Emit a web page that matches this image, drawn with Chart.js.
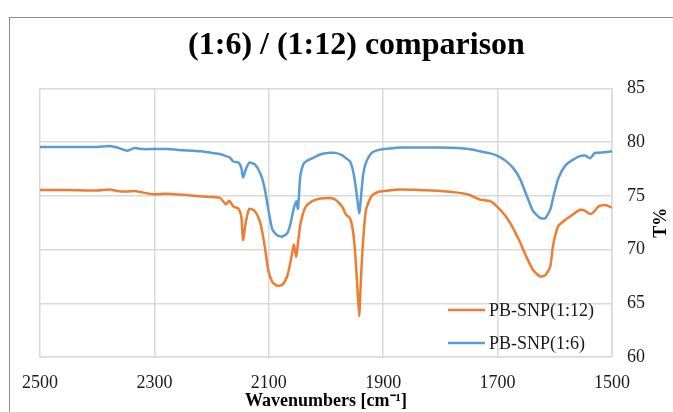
<!DOCTYPE html>
<html>
<head>
<meta charset="utf-8">
<script src="https://cdn.jsdelivr.net/npm/chart.js@4/dist/chart.umd.min.js"></script>
<style>
    html, body { margin: 0; padding: 0; background: #fff; overflow: hidden; }
    #wrap { position: relative; width: 673px; height: 412px; }
    #frame { position: absolute; left: 9px; top: 17px; width: 700px; height: 420px;
             border-top: 1px solid #8c8c8c; border-left: 1px solid #8c8c8c; }
    canvas { position: absolute; left: 0; top: 0; }
</style>
</head>
<body>
<div id="wrap">
    <div id="frame"></div>
    <canvas id="irChart" width="673" height="412"></canvas>
</div>
<script>
const wavenumbers = [2500, 2450, 2400, 2378, 2365, 2348, 2335, 2320, 2302, 2280, 2250, 2220, 2200, 2185,
    2175, 2169, 2162, 2153, 2148, 2145, 2140, 2134, 2124, 2115, 2108, 2101, 2094, 2086, 2077, 2068,
    2063, 2058, 2056, 2052, 2049, 2045, 2040, 2035, 2024, 2010, 1993, 1984, 1972, 1965, 1958, 1953,
    1949, 1946, 1942, 1939, 1935, 1930, 1920, 1906, 1890, 1871, 1840, 1800, 1770, 1750, 1731, 1713,
    1701, 1687, 1673, 1661, 1649, 1638, 1626, 1617, 1608, 1603, 1594, 1582, 1570, 1556, 1547, 1538,
    1530, 1524, 1512, 1500];

const snp12 = [75.55, 75.55, 75.5, 75.6, 75.45, 75.4, 75.45, 75.3, 75.15, 75.2, 75.1, 74.95, 74.9, 74.8,
    74.2, 74.55, 74.0, 73.8, 73.1, 70.9, 72.6, 73.8, 73.55, 72.5, 70.6, 68.1, 67.0, 66.65, 66.7, 67.5,
    68.6, 70.0, 70.45, 69.35, 70.6, 72.3, 73.4, 74.0, 74.5, 74.75, 74.8, 74.65, 74.0, 73.25, 72.9, 71.8,
    69.7, 67.2, 63.8, 67.2, 70.9, 73.7, 75.0, 75.4, 75.5, 75.6, 75.55, 75.45, 75.3, 75.1, 74.65, 74.5,
    74.0, 73.2, 72.0, 70.7, 69.25, 68.1, 67.5, 67.6, 68.4, 70.4, 72.2, 72.75, 73.2, 73.7, 73.6, 73.3,
    73.6, 74.0, 74.15, 73.9];

const snp6 = [79.55, 79.55, 79.55, 79.65, 79.5, 79.2, 79.45, 79.35, 79.35, 79.35, 79.25, 79.15, 79.0, 78.9,
    78.7, 78.6, 78.2, 78.1, 77.6, 76.7, 77.5, 78.1, 77.9, 77.1, 75.9, 73.8, 71.9, 71.35, 71.2, 71.5,
    72.2, 73.4, 73.9, 74.5, 73.8, 76.8, 77.9, 78.2, 78.5, 78.85, 79.0, 79.0, 78.8, 78.5, 78.2, 77.4,
    76.2, 75.0, 73.4, 74.8, 77.0, 78.1, 79.0, 79.3, 79.4, 79.5, 79.5, 79.5, 79.45, 79.35, 79.15, 78.95,
    78.75, 78.3, 77.6, 76.6, 75.0, 73.6, 72.95, 72.9, 73.7, 74.8, 76.6, 77.8, 78.3, 78.7, 78.75, 78.5,
    79.0, 79.0, 79.05, 79.15];

const xTicks = [2500, 2300, 2100, 1900, 1700, 1500];
const yTicks = [60, 65, 70, 75, 80, 85];

const serif = 'Liberation Serif';
const gridColor = '#d9d9d9';

function toPoints(values) {
    return wavenumbers.map((w, i) => ({ x: w, y: values[i] }));
}

// legend sits inside the plot, bottom right
const innerLegend = {
    id: 'innerLegend',
    afterDraw(chart) {
        const ctx = chart.ctx;
        const area = chart.chartArea;
        const rows = [area.bottom - 47, area.bottom - 14];
        ctx.save();
        ctx.font = '18px "' + serif + '"';
        ctx.textBaseline = 'middle';
        chart.data.datasets.forEach((ds, i) => {
            const y = rows[i];
            ctx.strokeStyle = ds.borderColor;
            ctx.lineWidth = 2.5;
            ctx.beginPath();
            ctx.moveTo(area.right - 164, y);
            ctx.lineTo(area.right - 127, y);
            ctx.stroke();
            ctx.fillStyle = '#1a1a1a';
            ctx.fillText(ds.label, area.right - 123, y + 1);
        });
        ctx.restore();
    }
};

// right axis title reads bottom to top
const rightTitle = {
    id: 'rightTitle',
    afterDraw(chart) {
        const ctx = chart.ctx;
        const area = chart.chartArea;
        ctx.save();
        ctx.translate(area.right + 49, (area.top + area.bottom) / 2);
        ctx.rotate(-Math.PI / 2);
        ctx.font = 'bold 18px "' + serif + '"';
        ctx.fillStyle = '#000';
        ctx.textAlign = 'center';
        ctx.textBaseline = 'middle';
        ctx.fillText('T%', 0, 0);
        ctx.restore();
    }
};

new Chart(document.getElementById('irChart'), {
    type: 'line',
    data: {
        datasets: [
            {
                label: 'PB-SNP(1:12)',
                data: toPoints(snp12),
                borderColor: '#ed7d31',
                borderWidth: 2.5,
                pointRadius: 0,
                tension: 0.2
            },
            {
                label: 'PB-SNP(1:6)',
                data: toPoints(snp6),
                borderColor: '#5b9bd5',
                borderWidth: 2.5,
                pointRadius: 0,
                tension: 0.2
            }
        ]
    },
    options: {
        responsive: false,
        animation: false,
        devicePixelRatio: 1,
        layout: {
            padding: { left: 40, right: 0, top: 0, bottom: 0 }
        },
        plugins: {
            legend: { display: false },
            tooltip: { enabled: false },
            title: {
                display: true,
                text: '(1:6) / (1:12) comparison',
                color: '#000',
                font: { family: serif, size: 32, weight: 'bold' },
                padding: { top: 27, bottom: 23 }
            }
        },
        scales: {
            x: {
                type: 'linear',
                reverse: true,
                min: 1500,
                max: 2500,
                afterBuildTicks: scale => { scale.ticks = xTicks.map(v => ({ value: v })); },
                afterFit: scale => { scale.height = 55; },
                grid: { color: gridColor, lineWidth: 1.5, drawTicks: false },
                border: { display: true, color: gridColor, width: 1.5 },
                ticks: {
                    padding: 15,
                    color: '#1a1a1a',
                    maxRotation: 0,
                    font: { family: serif, size: 18 },
                    callback: value => String(value)
                },
                title: {
                    display: true,
                    text: 'Wavenumbers [cm\u207B\u00B9]',
                    color: '#000',
                    font: { family: serif, size: 18, weight: 'bold' },
                    padding: { top: 0, bottom: 0 }
                }
            },
            y: {
                position: 'right',
                min: 60,
                max: 85,
                afterBuildTicks: scale => { scale.ticks = yTicks.map(v => ({ value: v })); },
                afterFit: scale => { scale.width = 61; },
                grid: { color: gridColor, lineWidth: 1.5, drawTicks: false },
                border: { display: true, color: gridColor, width: 1.5 },
                ticks: {
                    padding: 15,
                    color: '#1a1a1a',
                    font: { family: serif, size: 18 },
                    callback: value => String(value)
                }
            }
        }
    },
    plugins: [innerLegend, rightTitle]
});
</script>
</body>
</html>
